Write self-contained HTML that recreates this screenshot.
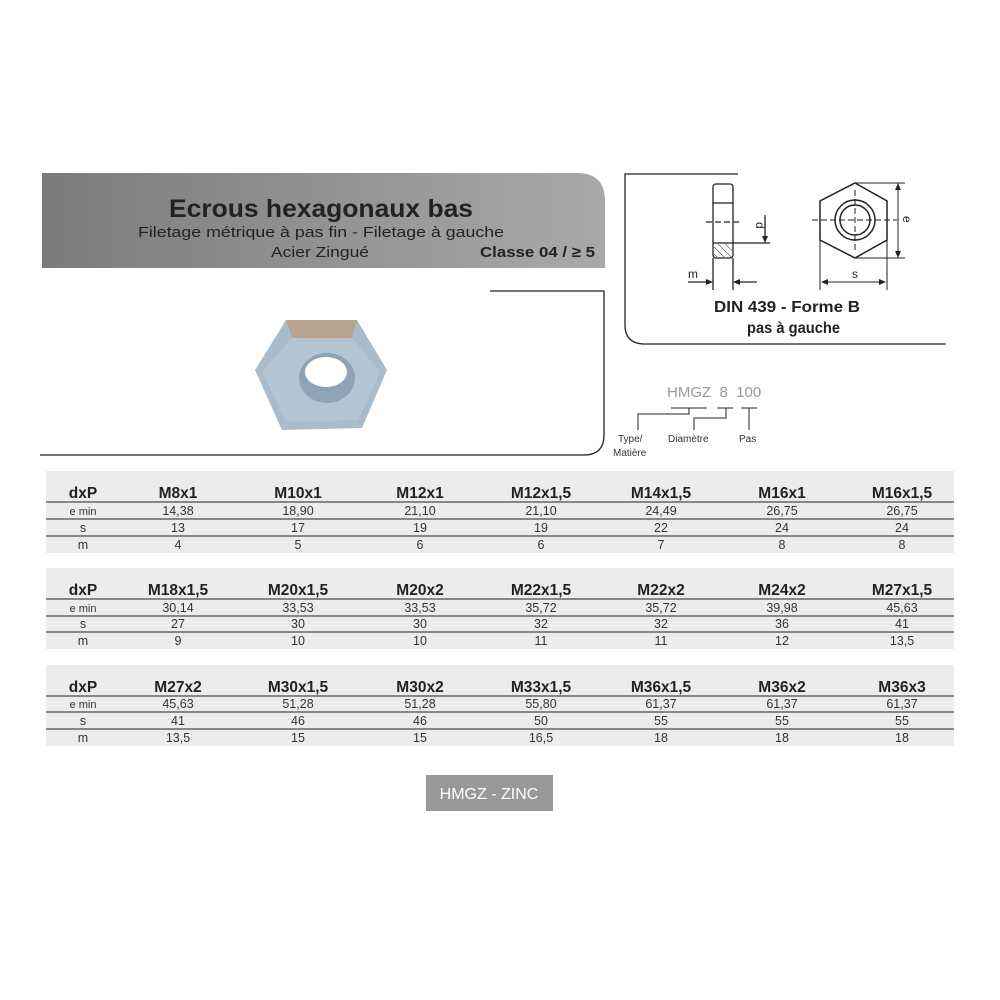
<!DOCTYPE html>
<html><head><meta charset="utf-8"><style>
html,body{margin:0;padding:0;background:#fff;}
svg{display:block;font-family:"Liberation Sans",sans-serif;}
</style></head><body>
<svg width="1000" height="1000" viewBox="0 0 1000 1000">
<defs>
<linearGradient id="hg" x1="0" x2="1" y1="0" y2="0">
<stop offset="0" stop-color="#7b7b7b"/><stop offset="1" stop-color="#a9a9ab"/>
</linearGradient>
<pattern id="hat" width="5" height="5" patternUnits="userSpaceOnUse" patternTransform="rotate(-45)">
<line x1="0" y1="0" x2="0" y2="5" stroke="#333" stroke-width="1"/>
</pattern>
</defs>
<!-- header -->
<path d="M42 173 H577 Q605 173 605 201 V268 H42 Z" fill="url(#hg)"/>
<text x="169" y="217" textLength="304" lengthAdjust="spacingAndGlyphs" font-size="25" font-weight="bold" fill="#222">Ecrous hexagonaux bas</text>
<text x="138" y="237" textLength="366" lengthAdjust="spacingAndGlyphs" font-size="15" fill="#222">Filetage métrique à pas fin - Filetage à gauche</text>
<text x="271" y="257" textLength="98" lengthAdjust="spacingAndGlyphs" font-size="15" fill="#222">Acier Zingué</text>
<text x="480" y="257" textLength="115" lengthAdjust="spacingAndGlyphs" font-size="15" font-weight="bold" fill="#222">Classe 04 / ≥ 5</text>
<!-- left panel line -->
<path d="M490 291 H604 V435 Q604 455 584 455 H40" fill="none" stroke="#222" stroke-width="1.3"/>
<!-- nut photo -->
<polygon points="286,320 357,320 387,370 362,428 282,430 255,370" fill="#a9bccb"/>
<polygon points="286,320 357,320 352,338 292,338" fill="#b7a490"/>
<polygon points="292,338 352,338 380,372 358,420 286,422 262,372" fill="#b3c5d3"/>
<ellipse cx="327" cy="378" rx="28" ry="25" fill="#8ea3b5"/>
<ellipse cx="326" cy="372" rx="21" ry="15" fill="#fff"/>
<!-- right panel -->
<path d="M738 174 H625 V325 Q625 344 645 344 H946" fill="none" stroke="#222" stroke-width="1.3"/>
<!-- side view -->
<g stroke="#222" fill="none" stroke-width="1.3">
<rect x="713" y="184" width="20" height="74" rx="3"/>
<line x1="713" y1="203" x2="733" y2="203"/>
<line x1="713" y1="243" x2="733" y2="243"/>
<line x1="706" y1="222" x2="742" y2="222" stroke-dasharray="6,3"/>
<line x1="733" y1="243" x2="770" y2="243"/>
<line x1="765" y1="215" x2="765" y2="241"/>
<line x1="713" y1="258" x2="713" y2="290"/>
<line x1="733" y1="258" x2="733" y2="290"/>
<line x1="688" y1="282" x2="711" y2="282"/>
<line x1="735" y1="282" x2="757" y2="282"/>
</g>
<rect x="714" y="244" width="18" height="13" fill="url(#hat)"/>
<polygon points="762,236 768,236 765,243" fill="#222"/>
<polygon points="706,279 713,282 706,285" fill="#222"/>
<polygon points="740,279 733,282 740,285" fill="#222"/>
<text x="756" y="222" font-size="12" fill="#222" transform="rotate(90 756 222)">d</text>
<text x="688" y="278" font-size="12" fill="#222">m</text>
<!-- hex view -->
<g stroke="#222" fill="none" stroke-width="1.5">
<polygon points="855,183 887,201 887,240 855,258 820,240 820,201"/>
<circle cx="855" cy="220" r="20"/>
<circle cx="855" cy="220" r="15"/>
<line x1="812" y1="220" x2="897" y2="220" stroke-dasharray="6,3" stroke-width="1"/>
<line x1="855" y1="190" x2="855" y2="250" stroke-dasharray="6,3" stroke-width="1"/>
<line x1="855" y1="183" x2="905" y2="183" stroke-width="1"/>
<line x1="855" y1="258" x2="905" y2="258" stroke-width="1"/>
<line x1="898" y1="185" x2="898" y2="256" stroke-width="1"/>
<line x1="820" y1="240" x2="820" y2="290" stroke-width="1"/>
<line x1="887" y1="240" x2="887" y2="290" stroke-width="1"/>
<line x1="822" y1="282" x2="885" y2="282" stroke-width="1"/>
</g>
<polygon points="895,190 901,190 898,183" fill="#222"/>
<polygon points="895,251 901,251 898,258" fill="#222"/>
<polygon points="828,279 821,282 828,285" fill="#222"/>
<polygon points="879,279 886,282 879,285" fill="#222"/>
<text x="852" y="278" font-size="12" fill="#222">s</text>
<text x="903" y="216" font-size="12" fill="#222" transform="rotate(90 903 216)">e</text>
<text x="714" y="312" textLength="146" lengthAdjust="spacingAndGlyphs" font-size="16" font-weight="bold" fill="#222">DIN 439 - Forme B</text>
<text x="747" y="333" textLength="93" lengthAdjust="spacingAndGlyphs" font-size="16" font-weight="bold" fill="#222">pas à gauche</text>
<!-- code legend -->
<text x="667" y="397" font-size="15" fill="#999" xml:space="preserve">HMGZ  8  100</text>
<g stroke="#222" stroke-width="1" fill="none">
<path d="M671 408 H707 M689 408 V414 H638 V430"/>
<path d="M717 408 H733 M726 408 V418 H694 V430"/>
<path d="M741 408 H757 M749 408 V430"/>
</g>
<text x="618" y="442" font-size="10" fill="#333">Type/</text>
<text x="613" y="456" font-size="10" fill="#333">Matière</text>
<text x="668" y="442" font-size="10" fill="#333">Diamètre</text>
<text x="739" y="442" font-size="10" fill="#333">Pas</text>
<!-- tables -->
<g font-size="12.5" fill="#333" text-anchor="middle">
<!-- table 1 -->
<rect x="46" y="471" width="908" height="82" fill="#ececec"/>
<g stroke="#222" stroke-width="1"><line x1="46" y1="502" x2="954" y2="502"/><line x1="46" y1="519" x2="954" y2="519"/><line x1="46" y1="536" x2="954" y2="536"/></g>
<g font-size="15.5" font-weight="bold" fill="#222">
<text x="83" y="498">dxP</text><text x="178" y="498">M8x1</text><text x="298" y="498">M10x1</text><text x="420" y="498">M12x1</text><text x="541" y="498">M12x1,5</text><text x="661" y="498">M14x1,5</text><text x="782" y="498">M16x1</text><text x="902" y="498">M16x1,5</text></g>
<text x="83" y="515" font-size="11">e min</text><text x="178" y="515">14,38</text><text x="298" y="515">18,90</text><text x="420" y="515">21,10</text><text x="541" y="515">21,10</text><text x="661" y="515">24,49</text><text x="782" y="515">26,75</text><text x="902" y="515">26,75</text>
<text x="83" y="532">s</text><text x="178" y="532">13</text><text x="298" y="532">17</text><text x="420" y="532">19</text><text x="541" y="532">19</text><text x="661" y="532">22</text><text x="782" y="532">24</text><text x="902" y="532">24</text>
<text x="83" y="549">m</text><text x="178" y="549">4</text><text x="298" y="549">5</text><text x="420" y="549">6</text><text x="541" y="549">6</text><text x="661" y="549">7</text><text x="782" y="549">8</text><text x="902" y="549">8</text>
<!-- table 2 -->
<rect x="46" y="568" width="908" height="81" fill="#ececec"/>
<g stroke="#222" stroke-width="1"><line x1="46" y1="599" x2="954" y2="599"/><line x1="46" y1="616" x2="954" y2="616"/><line x1="46" y1="632" x2="954" y2="632"/></g>
<g font-size="15.5" font-weight="bold" fill="#222">
<text x="83" y="595">dxP</text><text x="178" y="595">M18x1,5</text><text x="298" y="595">M20x1,5</text><text x="420" y="595">M20x2</text><text x="541" y="595">M22x1,5</text><text x="661" y="595">M22x2</text><text x="782" y="595">M24x2</text><text x="902" y="595">M27x1,5</text></g>
<text x="83" y="612" font-size="11">e min</text><text x="178" y="612">30,14</text><text x="298" y="612">33,53</text><text x="420" y="612">33,53</text><text x="541" y="612">35,72</text><text x="661" y="612">35,72</text><text x="782" y="612">39,98</text><text x="902" y="612">45,63</text>
<text x="83" y="628">s</text><text x="178" y="628">27</text><text x="298" y="628">30</text><text x="420" y="628">30</text><text x="541" y="628">32</text><text x="661" y="628">32</text><text x="782" y="628">36</text><text x="902" y="628">41</text>
<text x="83" y="645">m</text><text x="178" y="645">9</text><text x="298" y="645">10</text><text x="420" y="645">10</text><text x="541" y="645">11</text><text x="661" y="645">11</text><text x="782" y="645">12</text><text x="902" y="645">13,5</text>
<!-- table 3 -->
<rect x="46" y="665" width="908" height="81" fill="#ececec"/>
<g stroke="#222" stroke-width="1"><line x1="46" y1="696" x2="954" y2="696"/><line x1="46" y1="712" x2="954" y2="712"/><line x1="46" y1="729" x2="954" y2="729"/></g>
<g font-size="15.5" font-weight="bold" fill="#222">
<text x="83" y="692">dxP</text><text x="178" y="692">M27x2</text><text x="298" y="692">M30x1,5</text><text x="420" y="692">M30x2</text><text x="541" y="692">M33x1,5</text><text x="661" y="692">M36x1,5</text><text x="782" y="692">M36x2</text><text x="902" y="692">M36x3</text></g>
<text x="83" y="708" font-size="11">e min</text><text x="178" y="708">45,63</text><text x="298" y="708">51,28</text><text x="420" y="708">51,28</text><text x="541" y="708">55,80</text><text x="661" y="708">61,37</text><text x="782" y="708">61,37</text><text x="902" y="708">61,37</text>
<text x="83" y="725">s</text><text x="178" y="725">41</text><text x="298" y="725">46</text><text x="420" y="725">46</text><text x="541" y="725">50</text><text x="661" y="725">55</text><text x="782" y="725">55</text><text x="902" y="725">55</text>
<text x="83" y="742">m</text><text x="178" y="742">13,5</text><text x="298" y="742">15</text><text x="420" y="742">15</text><text x="541" y="742">16,5</text><text x="661" y="742">18</text><text x="782" y="742">18</text><text x="902" y="742">18</text>
</g>
<!-- button -->
<rect x="426" y="775" width="127" height="36" fill="#999"/>
<text x="489" y="799" text-anchor="middle" font-size="16" fill="#fff">HMGZ - ZINC</text>
</svg>
</body></html>
